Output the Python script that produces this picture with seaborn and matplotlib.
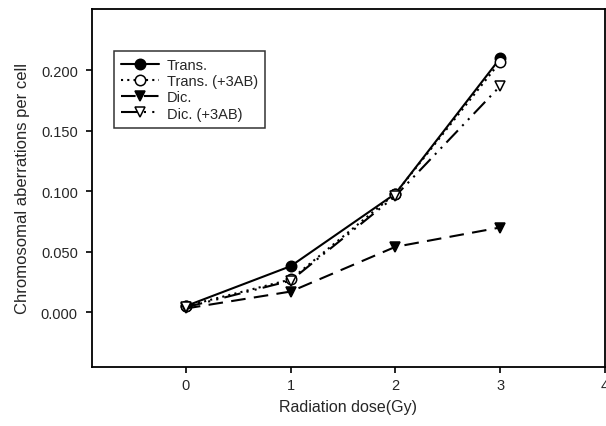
import matplotlib
matplotlib.use("Agg")
import matplotlib.pyplot as plt
import seaborn as sns
import pandas as pd

dose = [0, 1, 2, 3]
trans = [0.005, 0.038, 0.098, 0.210]
trans_3ab = [0.005, 0.027, 0.098, 0.207]
dic = [0.003, 0.017, 0.054, 0.070]
dic_3ab = [0.004, 0.026, 0.096, 0.187]
series_names = ["Trans.", "Trans. (+3AB)", "Dic.", "Dic. (+3AB)"]
x_ticks = [0, 1, 2, 3, 4]
y_ticks = [0.0, 0.05, 0.10, 0.15, 0.20]

sns.set_style("white")
plt.rcParams['font.family'] = ['Liberation Sans', 'DejaVu Sans']

fig = plt.figure(figsize=(6.06, 4.27), dpi=100)
ax = fig.add_axes([0.1513, 0.138, 0.8467, 0.839])

styles = [
    dict(ls="-", marker="o", mfc="black"),
    dict(ls=(0, (1, 2)), marker="o", mfc="white"),
    dict(ls=(0, (7, 4)), marker="v", mfc="black"),
    dict(ls=(0, (8, 3, 1, 3, 1, 3)), marker="v", mfc="white"),
]
for name, vals, st in zip(series_names, [trans, trans_3ab, dic, dic_3ab], styles):
    df = pd.DataFrame({"dose": dose, "val": vals})
    sns.lineplot(data=df, x="dose", y="val", ax=ax, color="black", lw=1.5,
                 linestyle=st["ls"], marker=st["marker"], markersize=7.5,
                 markerfacecolor=st["mfc"], markeredgecolor="black",
                 markeredgewidth=1.1, label=name)

ax.set_xlim(-0.9, 4.0)
ax.set_ylim(-0.0455, 0.251)
ax.set_xticks(x_ticks)
ax.set_xticklabels([str(t) for t in x_ticks])
ax.set_yticks(y_ticks)
ax.set_yticklabels([f"{t:.3f}" for t in y_ticks])
ax.tick_params(axis="both", direction="out", length=4, width=1.2, color="black",
               labelsize=10.5, pad=6, bottom=True, left=True)
ax.tick_params(axis="x", pad=4)
for s in ax.spines.values():
    s.set_color("black")
    s.set_linewidth(1.3)
ax.set_xlabel("Radiation dose(Gy)", fontsize=11.5, labelpad=5)
ax.set_ylabel("Chromosomal aberrations per cell", fontsize=12, labelpad=8)

leg = ax.legend(loc="upper left", bbox_to_anchor=(0.0435, 0.883), borderaxespad=0,
                frameon=True, fancybox=False, edgecolor="black", fontsize=10.5,
                handlelength=2.6, handletextpad=0.5, borderpad=0.5, labelspacing=0.15)
leg.get_frame().set_linewidth(1.1)

fig.savefig("out.png", dpi=100)
